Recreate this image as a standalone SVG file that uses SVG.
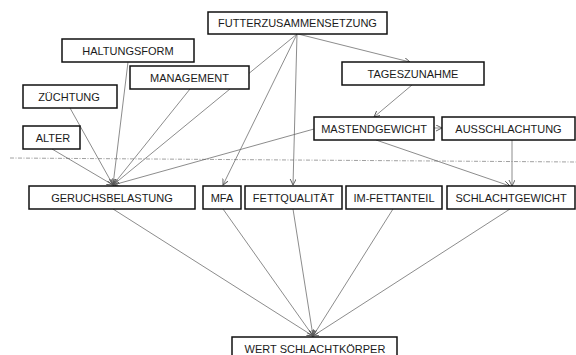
<svg xmlns="http://www.w3.org/2000/svg" width="576" height="355" viewBox="0 0 576 355">
<style>
.box{fill:#fff;stroke:#111;stroke-width:1.5}
.lbl{font-family:"Liberation Sans",Arial,sans-serif;font-size:11px;fill:#1a1a1a;text-anchor:middle}
.c{stroke:#666;stroke-width:0.75;fill:none;marker-end:url(#ah)}
</style>
<defs>
<marker id="ah" markerUnits="userSpaceOnUse" markerWidth="8" markerHeight="8" refX="6" refY="3" orient="auto">
<path d="M0,0 L6,3 L0,6" fill="none" stroke="#555" stroke-width="0.9"/>
</marker>
</defs>
<rect width="576" height="355" fill="#fff"/>
<line x1="10" y1="158" x2="576" y2="162" stroke="#888" stroke-width="0.8" stroke-dasharray="4 1.5 1 1.5"/>
<g id="connectors">
<line class="c" x1="52" y1="149" x2="113" y2="185"/>
<line class="c" x1="70" y1="108" x2="113" y2="185"/>
<line class="c" x1="128" y1="62" x2="113" y2="185"/>
<line class="c" x1="190" y1="89" x2="113" y2="185"/>
<line class="c" x1="297" y1="34" x2="113" y2="185"/>
<line class="c" x1="314" y1="129" x2="113" y2="185"/>
<line class="c" x1="297" y1="34" x2="223" y2="185"/>
<line class="c" x1="297" y1="34" x2="293" y2="185"/>
<line class="c" x1="298" y1="34" x2="410" y2="62"/>
<line class="c" x1="412" y1="85" x2="374" y2="117"/>
<line class="c" x1="434" y1="128" x2="442" y2="128"/>
<line class="c" x1="376" y1="140" x2="510" y2="186"/>
<line class="c" x1="512" y1="140" x2="512" y2="186"/>
<line class="c" x1="113" y1="209" x2="313" y2="336"/>
<line class="c" x1="223" y1="209" x2="313" y2="336"/>
<line class="c" x1="293" y1="209" x2="313" y2="336"/>
<line class="c" x1="393" y1="209" x2="313" y2="336"/>
<line class="c" x1="510" y1="209" x2="313" y2="336"/>
</g>
<g id="futter"><rect class="box" x="208" y="12" width="179" height="22"/><text class="lbl" x="297.5" y="27">FUTTERZUSAMMENSETZUNG</text></g>
<g id="haltung"><rect class="box" x="62" y="39" width="132" height="23"/><text class="lbl" x="128" y="54.5">HALTUNGSFORM</text></g>
<g id="management"><rect class="box" x="130" y="66" width="119" height="23"/><text class="lbl" x="189.5" y="81.5">MANAGEMENT</text></g>
<g id="zuechtung"><rect class="box" x="23" y="85" width="94" height="23"/><text class="lbl" x="69" y="100.5">ZÜCHTUNG</text></g>
<g id="alter"><rect class="box" x="23" y="126" width="57" height="23"/><text class="lbl" x="53" y="141.5">ALTER</text></g>
<g id="tages"><rect class="box" x="342" y="62" width="142" height="23"/><text class="lbl" x="413" y="77.5">TAGESZUNAHME</text></g>
<g id="mast"><rect class="box" x="314" y="117" width="120" height="23"/><text class="lbl" x="374" y="132.5">MASTENDGEWICHT</text></g>
<g id="auss"><rect class="box" x="442" y="117" width="133" height="23"/><text class="lbl" x="508.5" y="132.5">AUSSCHLACHTUNG</text></g>
<g id="geruch"><rect class="box" x="29" y="186" width="166" height="23"/><text class="lbl" x="112" y="201.5">GERUCHSBELASTUNG</text></g>
<g id="mfa"><rect class="box" x="203" y="186" width="38" height="23"/><text class="lbl" x="222" y="201.5">MFA</text></g>
<g id="fett"><rect class="box" x="245" y="186" width="97" height="23"/><text class="lbl" x="293.5" y="201.5">FETTQUALITÄT</text></g>
<g id="im"><rect class="box" x="346" y="186" width="96" height="23"/><text class="lbl" x="394" y="201.5">IM-FETTANTEIL</text></g>
<g id="schlacht"><rect class="box" x="447" y="186" width="128" height="23"/><text class="lbl" x="511" y="201.5">SCHLACHTGEWICHT</text></g>
<g id="wert"><rect class="box" x="232" y="337" width="165" height="23"/><text class="lbl" x="315" y="352.5">WERT SCHLACHTKÖRPER</text></g>
</svg>
